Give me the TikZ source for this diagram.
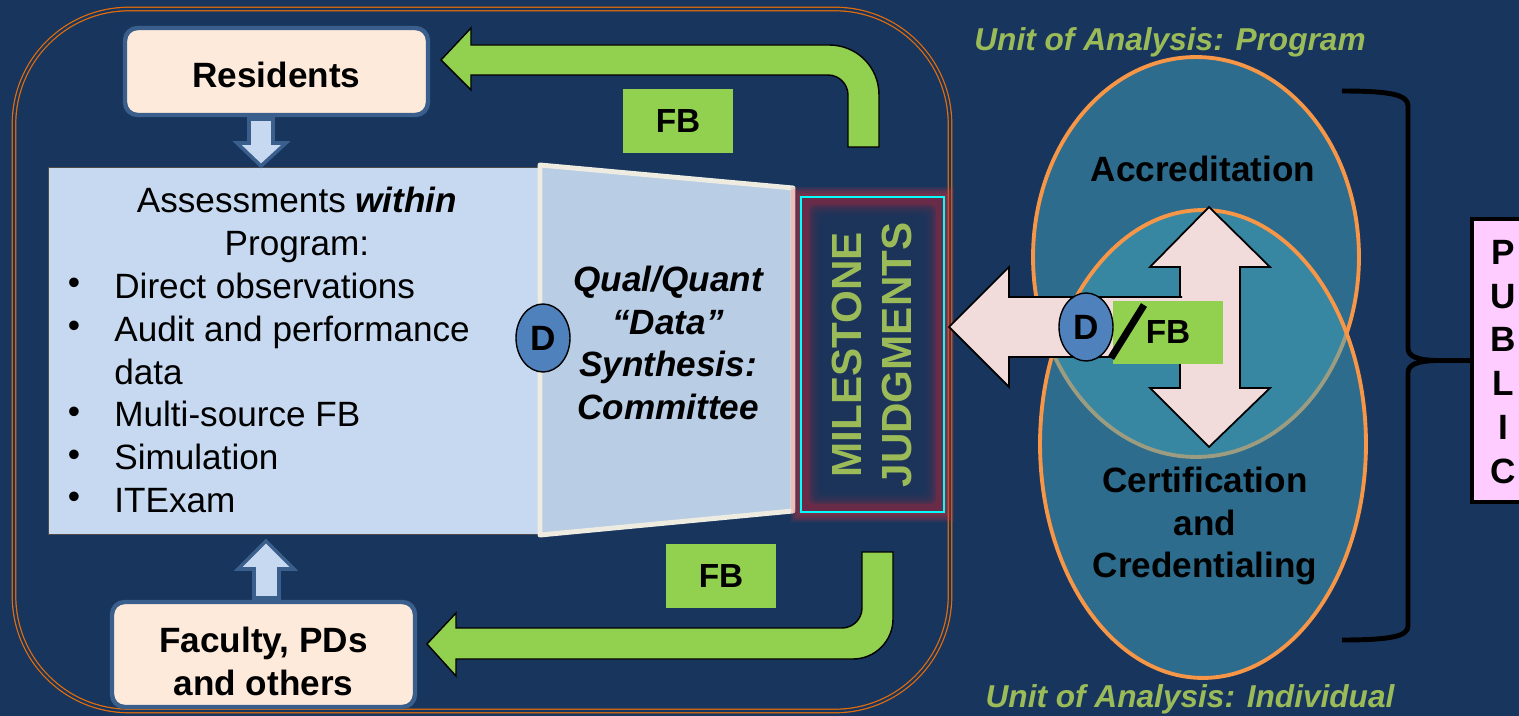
\documentclass[tikz,border=0pt]{standalone}
\usepackage{fontspec}
\setmainfont{Liberation Sans}
\usetikzlibrary{shapes.geometric}
\definecolor{bgnavy}{RGB}{24,54,93}
\definecolor{frameorange}{RGB}{228,108,10}
\definecolor{boxblue}{RGB}{59,95,140}
\definecolor{peach}{RGB}{253,234,218}
\definecolor{lightbox}{RGB}{198,217,240}
\definecolor{trapfill}{RGB}{185,205,229}
\definecolor{cream}{RGB}{238,236,225}
\definecolor{pinkglow}{RGB}{236,192,182}
\definecolor{fbgreen}{RGB}{146,208,80}
\definecolor{textgreen}{RGB}{155,187,89}
\definecolor{dblue}{RGB}{79,129,189}
\definecolor{maroon}{RGB}{104,44,72}
\definecolor{glowred}{RGB}{210,50,60}
\definecolor{cyanline}{RGB}{0,255,255}
\definecolor{ellteal}{RGB}{66,162,187}
\definecolor{ellorange}{RGB}{247,150,70}
\definecolor{arrowpink}{RGB}{242,220,219}
\definecolor{pubpink}{RGB}{255,204,255}
\newcommand{\txtbig}{\fontsize{20}{24.4}\selectfont}

\begin{document}
\begin{tikzpicture}[x=0.02cm,y=-0.02cm,
    framebox/.style={draw=frameorange,line width=0.7pt,double=bgnavy,double distance=1.3pt,rounded corners=2.3cm},
    box/.style={draw=boxblue,line width=2.5pt,fill=peach,rounded corners=0.25cm,minimum width=6.06cm},
    boxtext/.style={align=center,font=\txtbig\bfseries},
    fbbox/.style={fill=fbgreen,minimum width=2.2cm,minimum height=1.28cm,font=\fontsize{19}{22}\selectfont\bfseries},
    dnode/.style={ellipse,draw=black,line width=0.8pt,fill=dblue,minimum width=1.08cm,minimum height=1.36cm,inner sep=0pt,font=\txtbig\bfseries},
    greenarrow/.style={fill=fbgreen,draw=black,line width=0.8pt},
    smallarrow/.style={fill=lightbox,draw=boxblue,line width=2pt},
    bigarrow/.style={fill=arrowpink,draw=black,line width=1pt},
    circlezone/.style={fill=ellteal,fill opacity=0.5,draw=ellorange,line width=2.2pt},
    unitlabel/.style={text=textgreen,font=\fontsize{18}{22}\selectfont\bfseries\itshape}]
  \useasboundingbox (0,0) rectangle (1519,716);
  \fill[bgnavy] (0,0) rectangle (1519,716);
  \draw[framebox] (14,9) rectangle (950,711);

  \filldraw[greenarrow] (441,60) -- (471,28) -- (471,45) -- (829,45) .. controls (857,45) and (879,67) .. (879,95)
    -- (879,147) -- (848,147) -- (848,95) .. controls (848,84) and (839,75) .. (828,75) -- (471,75) -- (471,90) -- cycle;
  \filldraw[greenarrow] (862,552) -- (893,552) -- (893,619) .. controls (893,641) and (875,659) .. (853,659)
    -- (456,659) -- (456,676) -- (427,644) -- (456,613) -- (456,628) -- (842,628) .. controls (853,628) and (862,619) .. (862,608) -- cycle;
  \node[fbbox] (fbtop) at (678,121) {FB};
  \node[fbbox] (fbbot) at (721,576) {FB};

  \node[box,minimum height=1.74cm] (res) at (276.5,71.5) {};
  \node[boxtext] (restext) at ([yshift=-2pt]res.center) {Residents};
  \node[box,minimum height=2.1cm] (fac) at (263.5,654.5) {};
  \node[boxtext] (factext) at ([yshift=-3.8pt]fac.center) {Faculty, PDs\\and others};

  \node[draw=gray!60!black,line width=0.6pt,fill=lightbox,minimum width=9.84cm,minimum height=7.36cm] (assess) at (294,351) {};
  \filldraw[smallarrow] (249,119) -- (273,119) -- (273,143) -- (286,143) -- (261,166) -- (237,143) -- (249,143) -- cycle;
  \filldraw[smallarrow] (254,598) -- (279,598) -- (279,569) -- (294,569) -- (266,541) -- (238,569) -- (254,569) -- cycle;
  \node[font=\txtbig,align=center] (head) at (297,224.5) {Assessments \textbf{\textit{within}}\\Program:};
  \node[font=\txtbig,align=left,anchor=west,inner sep=0pt] (items) at (114,393)
    {Direct observations\\Audit and performance\\data\\Multi-source FB\\Simulation\\ITExam};
  \foreach \y in {286,329,415,458,500}
    \node[font=\txtbig] (dot\y) at (74,\y) {\textbullet};

  \filldraw[fill=trapfill,draw=cream,line width=2.8pt,line join=round] (540,165) -- (793,188) -- (793,511) -- (540,535) -- cycle;
  \foreach \d in {10,8,6,4,2}
    \fill[glowred,opacity=0.15] (801-\d,197-\d) rectangle (944+\d,512+\d);
  \draw[pinkglow,line width=2.5pt] (793,190) -- (793,509);
  \fill[maroon] (801,197) rectangle (944,512);
  \foreach \d in {8,10,...,20}
    \fill[bgnavy,opacity=0.32,rounded corners=3pt] (801+\d,197+\d) rectangle (944-\d,512-\d);
  \draw[cyanline,line width=1pt] (801,197) rectangle (944,512);
  \node[rotate=90,align=center,text=textgreen,font=\fontsize{24}{28.9}\selectfont\bfseries] (mile) at (872,355) {MILESTONE\\JUDGMENTS};
  \node[dnode] (dleft) at (543,338) {D};
  \node[align=center,font=\txtbig\bfseries\itshape] (synth) at (668,343) {Qual/Quant\\``Data''\\Synthesis:\\Committee};

  \filldraw[circlezone] (1196,257) ellipse [x radius=3.26cm,y radius=4cm];
  \filldraw[circlezone] (1203,444) ellipse [x radius=3.26cm,y radius=4.68cm];
  \node[unitlabel] (uprog) at (1170,42) {Unit of Analysis: Program};
  \node[unitlabel] (uind) at (1190,699) {Unit of Analysis: Individual};
  \node[font=\txtbig\bfseries] (accr) at (1203,169) {Accreditation};
  \node[align=center,font=\txtbig\bfseries] (cert) at (1205,526) {Certification\\and\\Credentialing};

  \filldraw[bigarrow] (1209,207) -- (1270,267) -- (1240,267) -- (1240,388) -- (1270,388) -- (1209,447)
    -- (1150,388) -- (1180,388) -- (1180,267) -- (1150,267) -- cycle;
  \filldraw[bigarrow] (1182,297) -- (1009,297) -- (1009,267) -- (949,327) -- (1009,387) -- (1009,357) -- (1182,357);
  \node[fbbox,minimum height=1.26cm] (fbright) at (1168,332.5) {FB};
  \node[dnode] (dright) at (1086,327) {D};
  \draw[black,line width=4pt] (1111,358) -- (1144,305);

  \node[draw=black,line width=2.8pt,fill=pubpink,minimum width=1.96cm,minimum height=5.66cm] (pub) at (1521,360.5) {};
  \node[align=center,font=\fontsize{20}{25}\selectfont\bfseries] (pubtext) at (1503,362) {P\\U\\B\\L\\I\\C};
  \draw[black,line width=2.8pt] (1342,91) .. controls (1392,91) and (1408,95) .. (1408,106) -- (1408,348)
    .. controls (1408,356) and (1416,360.5) .. (1440,360.5) .. controls (1416,360.5) and (1408,365) .. (1408,373)
    -- (1408,626) .. controls (1408,636) and (1392,640) .. (1342,640);
  \draw[black,line width=2.8pt] (1440,360.5) -- (pub.west);
\end{tikzpicture}
\end{document}
